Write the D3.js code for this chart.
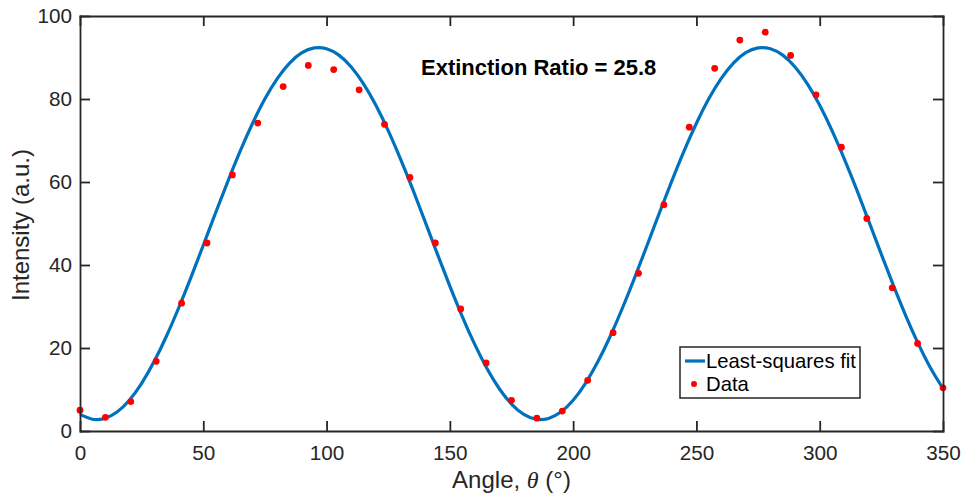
<!DOCTYPE html>
<html>
<head>
<meta charset="utf-8">
<script src="https://cdn.jsdelivr.net/npm/d3@7/dist/d3.min.js"></script>
<style>
  body { margin: 0; background: #fff; }
  text { font-family: "Liberation Sans", Arial, Helvetica, sans-serif; fill: #262626; }
</style>
</head>
<body>
<svg id="chart" width="962" height="493"></svg>
<script>
// measured data (angle in degrees, intensity a.u.)
var dataAngles = [0, 10.3, 20.6, 30.9, 41.2, 51.5, 61.8, 72.1, 82.4, 92.6, 102.9, 113.2, 123.5, 133.8,
  144.1, 154.4, 164.7, 175.0, 185.3, 195.6, 205.9, 216.2, 226.5, 236.8, 247.1, 257.4, 267.6, 277.9,
  288.2, 298.5, 308.8, 319.1, 329.4, 339.7, 350];
var dataValues = [5.0, 3.3, 7.1, 16.8, 30.8, 45.3, 61.7, 74.2, 83.0, 88.1, 87.1, 82.2, 73.9, 61.1,
  45.3, 29.4, 16.4, 7.4, 3.1, 4.8, 12.2, 23.7, 38.0, 54.5, 73.2, 87.4, 94.2, 96.1,
  90.5, 81.0, 68.4, 51.2, 34.5, 21.1, 10.4];

// least-squares fit curve, every 5 degrees
var fitAngles = [0, 5, 10, 15, 20, 25, 30, 35, 40, 45, 50, 55, 60, 65, 70, 75, 80, 85, 90, 95,
  100, 105, 110, 115, 120, 125, 130, 135, 140, 145, 150, 155, 160, 165, 170, 175,
  180, 185, 190, 195, 200, 205, 210, 215, 220, 225, 230, 235, 240, 245, 250, 255, 260, 265, 270, 275,
  280, 285, 290, 295, 300, 305, 310, 315, 320, 325, 330, 335, 340, 345, 350];
var fitValues = [4.0, 2.84, 3.03, 4.57, 7.43, 11.5, 16.66, 22.77, 29.64, 37.03, 44.75, 52.58, 60.23, 67.51, 74.17, 80.04, 84.91, 88.65, 91.15, 92.31,
  92.12, 90.58, 87.73, 83.66, 78.49, 72.38, 65.53, 58.17, 50.39, 42.57, 34.92, 27.65, 20.98, 15.12, 10.24, 6.5,
  4.0, 2.84, 3.03, 4.57, 7.43, 11.5, 16.66, 22.77, 29.64, 37.03, 44.75, 52.58, 60.23, 67.51, 74.17, 80.04, 84.91, 88.65, 91.15, 92.31,
  92.12, 90.58, 87.73, 83.66, 78.49, 72.38, 65.53, 58.17, 50.39, 42.57, 34.92, 27.65, 20.98, 15.12, 10.24];

var xTicks = [0, 50, 100, 150, 200, 250, 300, 350];
var yTicks = [0, 20, 40, 60, 80, 100];
var annotation = 'Extinction Ratio = 25.8';

var svg = d3.select('#chart');
var plotL = 80, plotR = 943, plotT = 16, plotB = 431;
var axisColor = '#262626';
var fontFam = '"Liberation Sans", Arial, Helvetica, sans-serif';

var x = d3.scaleLinear().domain([0, 350]).range([plotL, plotR]);
var y = d3.scaleLinear().domain([0, 100]).range([plotB, plotT]);

// fit line
var fitPts = fitAngles.map(function(a, i) { return [a, fitValues[i]]; });
var line = d3.line()
    .x(function(d) { return x(d[0]); })
    .y(function(d) { return y(d[1]); })
    .curve(d3.curveNatural);

svg.append('path')
    .datum(fitPts)
    .attr('d', line)
    .attr('fill', 'none')
    .attr('stroke', '#0072BD')
    .attr('stroke-width', 3.2);

// data dots
svg.selectAll('.dot')
    .data(dataAngles.map(function(a, i) { return [a, dataValues[i]]; }))
    .enter().append('circle')
    .attr('class', 'dot')
    .attr('cx', function(d) { return x(d[0]); })
    .attr('cy', function(d) { return y(d[1]); })
    .attr('r', 3.4)
    .attr('fill', '#ff0000');

// axes (box with inward ticks)
var bottomAxis = d3.axisBottom(x).tickValues(xTicks).tickSize(-10).tickSizeOuter(0).tickPadding(14);
var leftAxis = d3.axisLeft(y).tickValues(yTicks).tickSize(-10).tickSizeOuter(0).tickPadding(8);
var topAxis = d3.axisTop(x).tickValues(xTicks).tickSize(-10).tickSizeOuter(0).tickFormat('');
var rightAxis = d3.axisRight(y).tickValues(yTicks).tickSize(-10).tickSizeOuter(0).tickFormat('');

function styleAxis(g) {
  g.selectAll('path, line').attr('stroke', axisColor).attr('stroke-width', 1.8);
  g.select('.domain').attr('stroke-linecap', 'square');
  g.selectAll('text').attr('font-size', 20.7).attr('fill', axisColor).style('font-family', fontFam);
}

svg.append('g').attr('transform', 'translate(0,' + plotB + ')').call(bottomAxis).call(styleAxis);
svg.append('g').attr('transform', 'translate(' + plotL + ',0)').call(leftAxis).call(styleAxis);
svg.append('g').attr('transform', 'translate(0,' + plotT + ')').call(topAxis).call(styleAxis);
svg.append('g').attr('transform', 'translate(' + plotR + ',0)').call(rightAxis).call(styleAxis);

// axis labels
var xl = svg.append('text')
    .attr('x', (plotL + plotR) / 2)
    .attr('y', 488)
    .attr('text-anchor', 'middle')
    .attr('font-size', 24);
xl.append('tspan').text('Angle, ');
xl.append('tspan').text('\u03B8').style('font-style', 'italic')
    .style('font-family', '"Liberation Serif", "Times New Roman", serif');
xl.append('tspan').text(' (\u00B0)');

svg.append('text')
    .attr('transform', 'translate(29,225) rotate(-90)')
    .attr('text-anchor', 'middle')
    .attr('font-size', 24)
    .text('Intensity (a.u.)');

// annotation
svg.append('text')
    .attr('x', 421)
    .attr('y', 75)
    .attr('font-size', 22)
    .attr('font-weight', 'bold')
    .style('fill', '#000')
    .text(annotation);

// legend
var lg = svg.append('g');
lg.append('rect')
    .attr('x', 680).attr('y', 347)
    .attr('width', 180).attr('height', 51)
    .attr('fill', '#fff')
    .attr('stroke', axisColor)
    .attr('stroke-width', 1.5);
lg.append('line')
    .attr('x1', 685).attr('x2', 705)
    .attr('y1', 361).attr('y2', 361)
    .attr('stroke', '#0072BD').attr('stroke-width', 3.2);
lg.append('text').attr('x', 706).attr('y', 368).attr('font-size', 20.3).style('fill', '#000').text('Least-squares fit');
lg.append('circle').attr('cx', 694).attr('cy', 384).attr('r', 3).attr('fill', '#ff0000');
lg.append('text').attr('x', 706).attr('y', 391).attr('font-size', 20.3).style('fill', '#000').text('Data');
</script>
</body>
</html>
